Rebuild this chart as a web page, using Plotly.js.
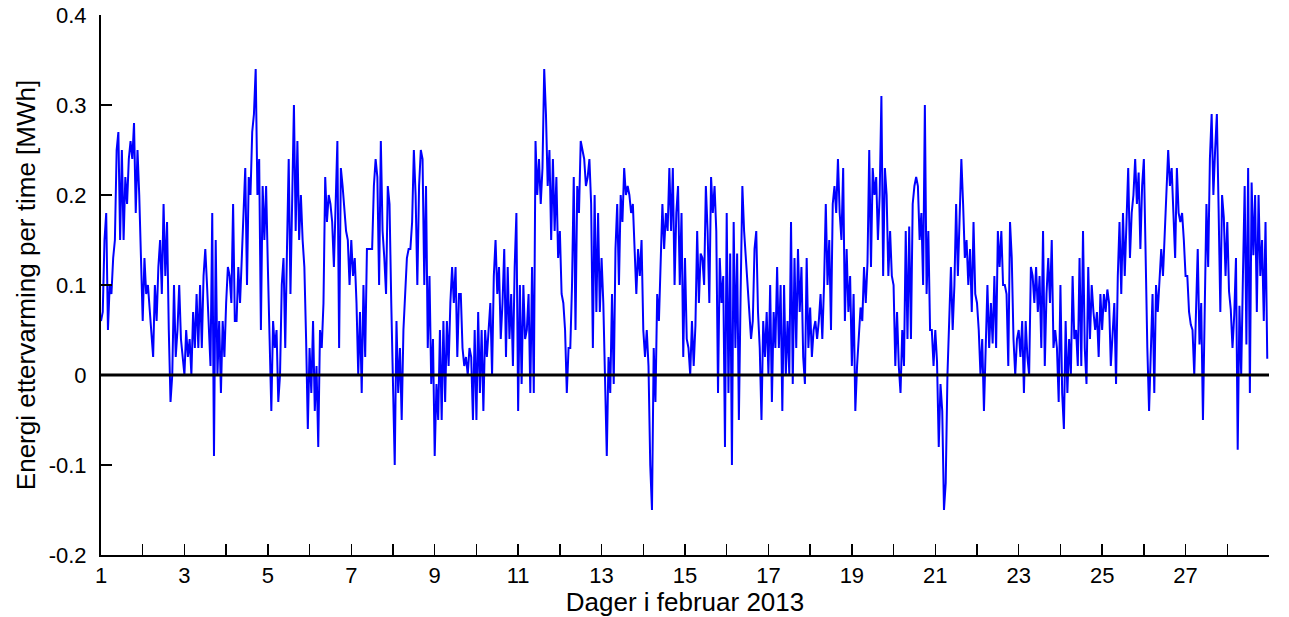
<!DOCTYPE html>
<html>
<head>
<meta charset="utf-8">
<script src="https://cdn.plot.ly/plotly-3.0.1.min.js"></script>
<style>
html,body{margin:0;padding:0;background:#fff;}
#chart{width:1289px;height:617px;}
</style>
</head>
<body>
<div id="chart"></div>
<script>
// Hourly energy for after-heating [MWh], February 2013
const startDay = 1;          // first sample at day 1, 00:00
const hoursPerDay = 24;

const hours000to056 = [0.06,0.07,0.15,0.18,0.05,0.1,0.09,0.13,0.15,0.25,
0.27,0.15,0.25,0.15,0.22,0.19,0.24,0.26,0.24,0.28,
0.18,0.25,0.2,0.135,0.06,0.13,0.09,0.1,0.07,0.05,
0.02,0.1,0.06,0.12,0.15,0.09,0.19,0.11,0.17,0.05,
-0.03,0.0,0.1,0.02,0.05,0.1,0.04,0.02,0.0,0.05,
0.02,0.04,0.0,0.07,0.03,0.09,0.03];
const hours057to113 = [0.1,0.03,0.11,0.14,0.1,0.05,0.01,0.18,-0.09,0.15,
0.0,0.06,-0.02,0.06,0.02,0.08,0.12,0.11,0.08,0.19,
0.06,0.06,0.12,0.08,0.13,0.18,0.23,0.1,0.22,0.2,
0.27,0.29,0.34,0.2,0.24,0.05,0.21,0.15,0.21,0.12,
0.03,-0.04,0.06,0.03,0.05,-0.03,0.0,0.1,0.13,0.03,
0.14,0.24,0.09,0.2,0.3,0.16,0.26];
const hours114to169 = [0.15,0.2,0.15,0.12,0.04,-0.06,0.03,-0.02,0.06,-0.04,
0.01,-0.08,0.05,0.03,0.08,0.22,0.17,0.2,0.19,0.17,
0.12,0.18,0.26,0.03,0.23,0.21,0.18,0.16,0.15,0.1,
0.15,0.11,0.13,0.08,0.0,0.07,-0.02,0.1,0.02,0.14,
0.14,0.14,0.14,0.21,0.24,0.22,0.1,0.26,0.16,0.13,
0.09,0.21,0.19,0.08,-0.03,-0.1];
const hours170to225 = [0.06,-0.02,0.03,-0.05,0.05,0.09,0.13,0.14,0.14,0.17,
0.25,0.2,0.1,0.21,0.25,0.24,0.1,0.21,0.03,0.11,
-0.01,0.04,-0.09,-0.01,-0.05,0.05,-0.05,0.06,-0.03,0.06,
0.01,0.08,0.12,0.08,0.12,0.02,0.09,0.09,0.03,0.01,
0.02,0.0,0.03,0.02,-0.05,0.05,-0.05,0.07,-0.02,0.05,
-0.04,0.05,0.02,0.05,0.08,0.0];
const hours226to282 = [0.11,0.15,0.09,0.12,0.04,0.08,0.14,0.02,0.12,0.04,
0.09,0.01,0.12,0.18,-0.04,0.1,-0.01,0.1,0.04,0.05,
0.09,-0.02,0.12,-0.02,0.26,0.2,0.24,0.19,0.23,0.34,
0.29,0.21,0.25,0.15,0.24,0.16,0.22,0.13,0.16,0.09,
0.08,0.05,-0.02,0.03,0.03,0.1,0.22,0.05,0.21,0.18,
0.26,0.25,0.24,0.21,0.22,0.24,0.19];
const hours283to337 = [0.03,0.2,0.07,0.18,0.07,0.13,0.08,0.0,-0.09,0.02,
-0.02,0.09,-0.01,0.14,0.19,0.1,0.2,0.17,0.23,0.2,
0.21,0.2,0.18,0.19,0.13,0.09,0.14,0.11,0.15,0.05,
0.02,0.05,0.01,-0.1,-0.15,0.03,-0.03,0.09,0.06,0.12,
0.19,0.14,0.18,0.16,0.23,0.16,0.23,0.1,0.18,0.21,
0.1,0.18,0.02,0.13,0.04];
const hours338to394 = [0.03,0.0,0.06,0.01,0.055,0.16,0.08,0.135,0.13,0.1,
0.21,0.16,0.08,0.22,0.18,0.21,0.16,-0.02,0.13,0.08,
0.11,-0.08,0.18,-0.02,0.135,-0.1,0.17,0.03,0.135,-0.05,
0.09,0.21,0.16,0.13,0.1,0.06,0.04,0.06,0.14,0.16,
0.07,0.03,-0.05,0.06,0.02,0.07,0.0,0.1,-0.03,0.07,
0.03,0.12,0.03,0.1,-0.04,0.1,0.0];
const hours395to451 = [0.06,0.0,0.17,-0.01,0.13,0.03,0.14,0.07,0.12,0.02,
-0.01,0.13,0.03,0.075,0.02,0.05,0.06,0.04,0.06,0.09,
0.04,0.1,0.19,0.1,0.15,0.05,0.19,0.21,0.18,0.24,
0.18,0.15,0.23,0.06,0.14,0.07,0.11,0.01,0.09,-0.04,
0.01,0.05,0.075,0.06,0.12,0.08,0.125,0.25,0.12,0.23,
0.2,0.22,0.15,0.2,0.31,0.11,0.23];
const hours452to507 = [0.2,0.11,0.16,0.11,0.1,0.01,0.07,0.01,-0.02,0.05,
0.01,0.16,0.04,0.165,0.04,0.19,0.21,0.22,0.21,0.15,
0.18,0.1,0.3,0.09,0.16,0.05,0.05,0.01,0.05,0.015,
-0.08,-0.01,-0.04,-0.15,-0.12,0.0,0.06,0.12,0.05,0.1,
0.19,0.11,0.175,0.24,0.19,0.13,0.15,0.1,0.14,0.07,
0.17,0.09,0.08,0.05,0.0,0.04];
const hours508to563 = [-0.04,0.02,0.1,0.03,0.08,0.035,0.11,0.03,0.16,0.12,
0.16,0.1,0.1,0.09,0.01,0.17,0.13,0.04,0.0,0.04,
0.05,0.02,0.06,-0.02,0.06,0.02,0.0,0.12,0.11,0.08,
0.12,0.07,0.11,0.03,0.16,0.01,0.09,0.13,0.08,0.15,
0.03,0.05,0.03,-0.03,0.1,-0.02,-0.06,0.06,-0.02,0.04,
0.0,0.11,0.04,0.05,0.01,0.13];
const hours564to620 = [0.01,0.16,0.03,-0.01,0.12,0.04,0.1,0.07,0.05,0.07,
0.02,0.09,0.05,0.09,0.07,0.095,0.08,0.01,0.04,0.08,
-0.01,0.11,0.17,0.09,0.18,0.11,0.17,0.23,0.13,0.18,
0.2,0.24,0.19,0.225,0.14,0.21,0.24,0.11,0.03,-0.04,
0.04,0.09,-0.02,0.1,0.07,0.1,0.14,0.11,0.16,0.22,
0.25,0.21,0.23,0.18,0.13,0.23,0.18];
const hours621to671 = [0.17,0.18,0.15,0.11,0.11,0.07,0.056,0.05,0.0,0.065,
0.14,0.034,0.08,-0.05,0.087,0.19,0.12,0.24,0.29,0.2,
0.25,0.29,0.185,0.07,0.2,0.175,0.11,0.17,0.093,0.073,
0.03,0.067,0.13,-0.083,0.077,0.0,0.11,0.21,0.034,0.23,
-0.02,0.214,0.133,0.2,0.07,0.2,0.11,0.15,0.06,0.17,
0.018];

const xTickVals = [1,2,3,4,5,6,7,8,9,10,11,12,13,14,15,16,17,18,19,20,21,22,23,24,25,26,27,28,29];
const xTickText = ["1","","3","","5","","7","","9","","11","","13","","15","","17","","19","","21","","23","","25","","27","",""];
const yTickVals = [-0.2,-0.1,0,0.1,0.2,0.3,0.4];
const yTickText = ["-0.2","-0.1","0","0.1","0.2","0.3","0.4"];
const xRange = [1, 29];
const yRange = [-0.2, 0.4];
const zeroLineX = [1, 29];
const zeroLineY = [0, 0];

const energy = [].concat(hours000to056, hours057to113, hours114to169, hours170to225,
  hours226to282, hours283to337, hours338to394, hours395to451, hours452to507,
  hours508to563, hours564to620, hours621to671);
const days = energy.map((_, i) => startDay + i / hoursPerDay);

const family = 'Liberation Sans, Arial, Helvetica, sans-serif';
const tickFont = {family: family, size: 22, color: '#000'};
const titleFont = {family: family, size: 26, color: '#000'};

const traces = [
  {x: days, y: energy, type: 'scatter', mode: 'lines',
   line: {color: '#0000ff', width: 2}, hoverinfo: 'x+y', showlegend: false},
  {x: zeroLineX, y: zeroLineY, type: 'scatter', mode: 'lines',
   line: {color: '#000000', width: 3}, hoverinfo: 'skip', showlegend: false}
];

const layout = {
  width: 1289, height: 617,
  margin: {l: 101, r: 20, t: 15, b: 62, pad: 0},
  paper_bgcolor: '#fff', plot_bgcolor: '#fff',
  font: tickFont,
  showlegend: false,
  xaxis: {
    range: xRange, tickmode: 'array', tickvals: xTickVals, ticktext: xTickText,
    ticks: 'inside', ticklen: 11, tickwidth: 1.5, tickcolor: '#000',
    showline: true, linecolor: '#000', linewidth: 2, mirror: false,
    showgrid: false, zeroline: false,
    tickfont: tickFont, ticklabelstandoff: 0,
    title: {text: 'Dager i februar 2013', font: titleFont, standoff: 0}
  },
  yaxis: {
    range: yRange, tickmode: 'array', tickvals: yTickVals, ticktext: yTickText,
    ticks: 'inside', ticklen: 11, tickwidth: 1.5, tickcolor: '#000',
    showline: true, linecolor: '#000', linewidth: 2, mirror: false,
    showgrid: false, zeroline: false,
    tickfont: tickFont, ticklabelstandoff: 8,
    title: {text: 'Energi ettervarming per time [MWh]', font: titleFont, standoff: 6}
  }
};

Plotly.newPlot('chart', traces, layout, {displayModeBar: false, staticPlot: true});
</script>
</body>
</html>
